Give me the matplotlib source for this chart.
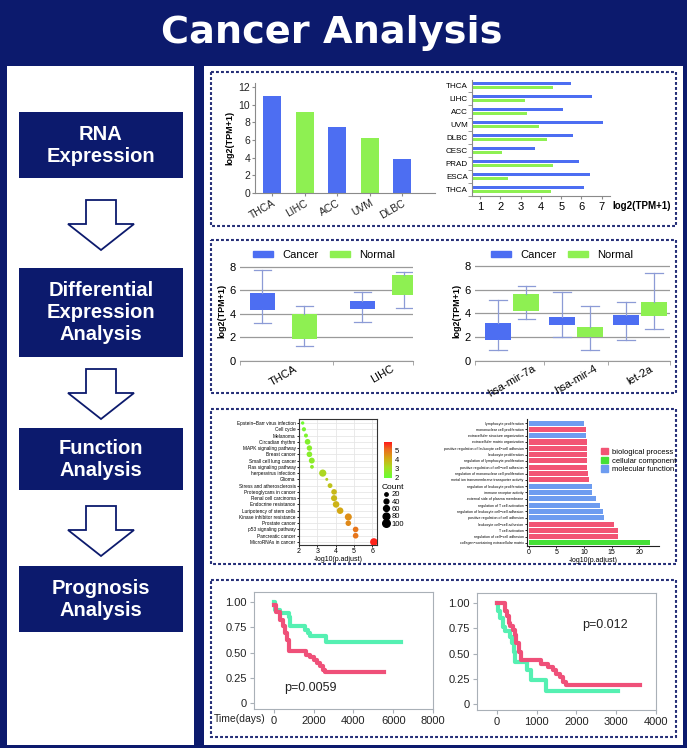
import numpy as np
import matplotlib
matplotlib.use('Agg')
import matplotlib.pyplot as plt
from matplotlib.patches import Rectangle, Polygon, Patch
from matplotlib.lines import Line2D
from matplotlib.colors import LinearSegmentedColormap

plt.rcParams['font.family'] = ['Liberation Sans', 'DejaVu Sans']

# ---------------- data ----------------
rna_types = ['THCA', 'LIHC', 'ACC', 'UVM', 'DLBC']
rna_values = [11.0, 9.2, 7.5, 6.2, 3.8]

tpm_types = ['THCA', 'LIHC', 'ACC', 'UVM', 'DLBC', 'CESC', 'PRAD', 'ESCA', 'THCA']
tpm_cancer = [5.5, 6.5, 5.1, 7.05, 5.6, 3.7, 5.9, 6.4, 6.15]
tpm_normal = [4.6, 3.2, 3.3, 3.9, 4.3, 2.1, 4.6, 2.4, 4.5]

# whisker low, q1, q3, whisker high
de_types = ['THCA', 'LIHC']
de_cancer = [[3.2, 4.3, 5.8, 7.7], [3.3, 4.4, 5.1, 5.9]]
de_normal = [[1.3, 1.9, 4.0, 4.7], [4.5, 5.6, 7.3, 7.6]]

mir_names = ['hsa-mir-7a', 'hsa-mir-4', 'let-2a']
mir_cancer = [[0.9, 1.8, 3.2, 5.1], [2.0, 3.0, 3.7, 5.8], [1.8, 3.0, 3.9, 5.0]]
mir_normal = [[3.5, 4.2, 5.6, 6.3], [0.9, 2.0, 2.9, 4.6], [2.7, 3.8, 5.0, 7.4]]

kegg_terms = ['Epstein\u2212Barr virus infection', 'Cell cycle', 'Melanoma', 'Circadian rhythm',
              'MAPK signaling pathway', 'Breast cancer', 'Small cell lung cancer',
              'Ras signaling pathway', 'herpesvirus infection', 'Glioma',
              'Stress and atherosclerosis', 'Proteoglycans in cancer', 'Renal cell carcinoma',
              'Endocrine resistance', 'Luripotency of stem cells', 'Kinase inhibitor resistance',
              'Prostate cancer', 'p53 signaling pathway', 'Pancreatic cancer', 'MicroRNAs in cancer']
kegg_score = [2.2, 2.27, 2.38, 2.47, 2.57, 2.57, 2.7, 2.71, 3.3, 3.52,
              3.7, 3.92, 3.92, 4.03, 4.25, 4.7, 4.7, 5.1, 5.1, 6.1]
kegg_count = [20, 30, 28, 55, 50, 55, 60, 25, 90, 15,
              40, 55, 65, 75, 75, 85, 55, 55, 55, 100]
kegg_color = [2.1, 2.2, 2.3, 2.4, 2.5, 2.5, 2.6, 2.6, 3.2, 3.4,
              3.6, 3.8, 3.8, 3.9, 4.1, 4.5, 4.6, 4.9, 4.9, 5.8]
count_legend = [20, 40, 60, 80, 100]

go_terms = ['lymphocyte proliferation', 'mononuclear cell proliferation',
            'extracellular structure organization', 'extracellular matrix organization',
            'positive regulation of leukocyte cell\u2212cell adhesion', 'leukocyte proliferation',
            'regulation of lymphocyte proliferation', 'positive regulation of cell\u2212cell adhesion',
            'regulation of mononuclear cell proliferation', 'metal ion transmembrane transporter activity',
            'regulation of leukocyte proliferation', 'immune receptor activity',
            'external side of plasma membrane', 'regulation of T cell activation',
            'regulation of leukocyte cell\u2212cell adhesion', 'positive regulation of cell adhesion',
            'leukocyte cell\u2212cell adhesion', 'T cell activation',
            'regulation of cell\u2212cell adhesion', 'collagen\u2212containing extracellular matrix']
go_score = [10.0, 10.3, 10.4, 10.5, 10.5, 10.5, 10.5, 10.5, 10.7, 10.9,
            11.4, 11.4, 12.2, 12.9, 13.4, 13.7, 15.5, 16.2, 16.2, 22.0]
go_class = ['MF', 'BP', 'MF', 'BP', 'BP', 'BP', 'BP', 'BP', 'BP', 'BP',
            'MF', 'MF', 'MF', 'MF', 'MF', 'MF', 'BP', 'BP', 'BP', 'CC']
go_names = {'BP': 'biological process', 'CC': 'cellular component', 'MF': 'molecular function'}

km1_high_t = [0, 80, 330, 740, 820, 1560, 1720, 1810, 2630, 6400]
km1_high_s = [1.0, 0.92, 0.89, 0.85, 0.76, 0.72, 0.69, 0.66, 0.6, 0.6]
km1_low_t = [0, 100, 300, 450, 550, 650, 740, 1600, 1800, 2000, 2150, 2300, 2480, 2560, 5560]
km1_low_s = [0.97, 0.9, 0.82, 0.76, 0.69, 0.62, 0.52, 0.48, 0.455, 0.425, 0.395, 0.365, 0.33, 0.305, 0.305]
km2_high_t = [0, 25, 75, 157, 216, 340, 381, 423, 448, 746, 846, 1244, 3035]
km2_high_s = [1.0, 0.92, 0.85, 0.76, 0.72, 0.66, 0.6, 0.52, 0.42, 0.34, 0.24, 0.13, 0.13]
km2_low_t = [0, 199, 257, 299, 340, 406, 448, 489, 547, 605, 1120, 1294, 1418, 1493, 1592, 1667, 1741, 3607]
km2_low_s = [1.0, 0.92, 0.87, 0.8, 0.77, 0.73, 0.68, 0.6, 0.52, 0.44, 0.40, 0.37, 0.34, 0.30, 0.27, 0.22, 0.19, 0.19]

# ---------------- styles ----------------
navy = '#0c1a6d'
blue = '#4d6ef2'
green = '#8ef052'
wcol = '#8c9bd6'
grey = '#8a8a8a'
km_green = '#55f0b2'
km_pink = '#ef5079'
go_colors = {'BP': '#f25474', 'CC': '#45e036', 'MF': '#6d9cf0'}
dot_scale = 0.3

W, H = 687, 748
fig = plt.figure(figsize=(W / 100, H / 100), dpi=100, facecolor=navy)
bg = fig.add_axes([0, 0, 1, 1])
bg.set_xlim(0, W)
bg.set_ylim(H, 0)
bg.axis('off')


def px_axes(x0, y0, x1, y1):
    return fig.add_axes([x0 / W, 1 - y1 / H, (x1 - x0) / W, (y1 - y0) / H])


# frame, title, left flow column
bg.text(332, 33, 'Cancer Analysis', color='white', fontsize=27.5, fontweight='bold',
        family='DejaVu Sans', ha='center', va='center')
bg.add_patch(Rectangle((7, 66), 187, 679, fc='white', ec='none'))
bg.add_patch(Rectangle((204, 66), 479, 679, fc='white', ec='none'))
for y0, y1 in [(72, 226), (240, 393), (409, 564), (580, 737)]:
    bg.add_patch(Rectangle((211, y0), 465, y1 - y0, fill=False, ec='#262f78', lw=1.5,
                           ls=(0, (1.4, 1.0))))

steps = [('RNA\nExpression', 112, 178), ('Differential\nExpression\nAnalysis', 268, 357),
         ('Function\nAnalysis', 428, 490), ('Prognosis\nAnalysis', 566, 632)]
for label, y0, y1 in steps:
    bg.add_patch(Rectangle((19, y0), 164, y1 - y0, fc=navy, ec='none'))
    bg.text(101, (y0 + y1) / 2, label, color='white', fontsize=14.5, fontweight='bold',
            ha='center', va='center', linespacing=1.2)
for top in [200, 369, 506]:
    cx, mid, tip = 101, top + 24, top + 50
    bg.add_patch(Polygon([(cx - 15, top), (cx + 15, top), (cx + 15, mid), (cx + 33, mid),
                          (cx, tip), (cx - 33, mid), (cx - 15, mid)], closed=True,
                         fc='white', ec=navy, lw=1.3))

# ---- chart 1: RNA expression bars ----
ax1 = px_axes(255, 83, 435, 193)
x = np.arange(len(rna_types))
ax1.bar(x, rna_values, width=0.55, color=[blue, green, blue, green, blue])
ax1.set_xlim(-0.52, 5.0)
ax1.set_ylim(0, 12.45)
ax1.set_yticks(range(0, 13, 2))
ax1.set_xticks(x)
ax1.set_xticklabels(rna_types, rotation=30, ha='right', rotation_mode='anchor')
for s in ['top', 'right']:
    ax1.spines[s].set_visible(False)
for s in ['left', 'bottom']:
    ax1.spines[s].set_color(grey)
ax1.tick_params(colors=grey, labelcolor='#222', labelsize=7.5, length=2.5, pad=1)
ax1.set_ylabel('log2(TPM+1)', fontweight='bold', fontsize=6.5, labelpad=3)

# ---- chart 2: grouped horizontal bars ----
ax2 = px_axes(472, 80, 610, 196)
y = np.arange(len(tpm_types))
ax2.barh(y - 0.165, tpm_cancer, height=0.24, color=blue)
ax2.barh(y + 0.165, tpm_normal, height=0.24, color=green)
ax2.set_xlim(0.6, 7.41)
ax2.set_ylim(8.47, -0.41)
ax2.set_yticks(y)
ax2.set_yticklabels(tpm_types)
ax2.set_yticks(y + 0.5, minor=True)
ax2.set_xticks(range(1, 8))
for s in ['top', 'right']:
    ax2.spines[s].set_visible(False)
for s in ['left', 'bottom']:
    ax2.spines[s].set_color(grey)
ax2.tick_params(axis='y', which='major', length=0, labelsize=5.8, pad=3)
ax2.tick_params(axis='y', which='minor', length=3, color=grey)
ax2.tick_params(axis='x', length=2, color=grey, labelsize=8, pad=2)
bg.text(642, 206, 'log2(TPM+1)', fontsize=7, fontweight='bold', ha='center', va='center')


# ---- box charts ----
def draw_boxes(ax, cancer, normal, offset, width, capw):
    n = len(cancer)
    stats = [dict(whislo=q[0], q1=q[1], med=q[1], q3=q[2], whishi=q[3], fliers=[])
             for q in cancer + normal]
    pos = list(np.arange(n) - offset) + list(np.arange(n) + offset)
    res = ax.bxp(stats, positions=pos, widths=width, patch_artist=True, showfliers=False,
                 capwidths=capw, boxprops=dict(edgecolor='none'),
                 whiskerprops=dict(color=wcol, lw=0.9), capprops=dict(color=wcol, lw=0.9),
                 medianprops=dict(lw=0), manage_ticks=False)
    for i, b in enumerate(res['boxes']):
        b.set_facecolor(blue if i < n else green)


def style_box_axes(ax, names, lo, hi):
    n = len(names)
    ax.set_ylim(0, 8.5)
    ax.set_yticks([0, 2, 4, 6, 8])
    ax.yaxis.grid(True, color='#9a9a9a', lw=0.9)
    ax.set_axisbelow(True)
    ax.set_xlim(lo, hi)
    ax.set_xticks(np.arange(n))
    ax.set_xticklabels(names, rotation=30, ha='center')
    ax.set_xticks([lo] + list(np.arange(n - 1) + 0.5) + [hi], minor=True)
    for s in ['top', 'right', 'left']:
        ax.spines[s].set_visible(False)
    ax.spines['bottom'].set_color('#9a9a9a')
    ax.tick_params(axis='y', length=0, labelsize=8, pad=3)
    ax.tick_params(axis='x', which='major', length=0, labelsize=8, pad=2)
    ax.tick_params(axis='x', which='minor', length=3, color='#9a9a9a')
    ax.set_ylabel('log2(TPM+1)', fontweight='bold', fontsize=6.5, labelpad=2)


ax3 = px_axes(240, 261, 413, 361)
draw_boxes(ax3, de_cancer, de_normal, 0.21, 0.25, 0.17)
style_box_axes(ax3, de_types, -0.43, 1.3)

ax4 = px_axes(475, 260, 670, 361)
draw_boxes(ax4, mir_cancer, mir_normal, 0.22, 0.4, 0.27)
style_box_axes(ax4, mir_names, -0.58, 2.47)

for lx in [253, 491]:
    fig.legend(handles=[Patch(color=blue, label='Cancer'), Patch(color=green, label='Normal')],
               loc='center left', bbox_to_anchor=(lx, 255), bbox_transform=bg.transData,
               ncol=2, frameon=False, fontsize=8, handlelength=1.8, handleheight=0.55,
               handletextpad=0.8, columnspacing=1.1, borderpad=0, borderaxespad=0)

# ---- chart 5: KEGG dot plot ----
cmap = LinearSegmentedColormap.from_list('padj', [(0, '#66ff33'), (0.3, '#a8dc22'),
                                                  (0.55, '#d4a814'), (0.8, '#ec6a1e'),
                                                  (1, '#ff1a1a')])
ax5 = px_axes(299, 419, 377, 545)
yy = np.arange(len(kegg_terms))
sc = ax5.scatter(kegg_score, yy, s=np.array(kegg_count) * dot_scale, c=kegg_color, cmap=cmap,
                 vmin=1.9, vmax=5.9, zorder=3, edgecolors='none')
ax5.set_xlim(2, 6.27)
ax5.set_ylim(19.48, -0.64)
ax5.set_yticks(yy)
ax5.set_yticklabels(kegg_terms)
ax5.set_xticks([2, 3, 4, 5, 6])
ax5.grid(True, color='#e6e6e6', lw=0.6)
ax5.set_axisbelow(True)
for s in ax5.spines.values():
    s.set_color('#333333')
    s.set_linewidth(0.8)
ax5.tick_params(axis='y', labelsize=3.4, length=1.5, width=0.6, pad=1)
ax5.tick_params(axis='x', labelsize=5, length=1.5, width=0.6, pad=1)
ax5.set_xlabel('-log10(p.adjust)', fontsize=5, labelpad=0.5)

cax = px_axes(384, 442, 392, 478)
cb = fig.colorbar(sc, cax=cax, ticks=[2, 3, 4, 5])
cb.outline.set_visible(False)
cax.tick_params(length=0, labelsize=5.5, pad=2)

count_handles = [Line2D([], [], ls='', marker='o', color='black',
                        markersize=np.sqrt(c * dot_scale), label=str(c)) for c in count_legend]
fig.legend(handles=count_handles, title='Count', loc='upper left', bbox_to_anchor=(382, 484),
           bbox_transform=bg.transData, frameon=False, fontsize=5.5, title_fontsize=6,
           labelspacing=0.0, handletextpad=0.3, handlelength=1.0, borderpad=0,
           borderaxespad=0, alignment='left')

# ---- chart 6: GO bars ----
ax6 = px_axes(527, 419, 659, 546)
ax6.barh(yy, go_score, height=0.8, color=[go_colors[c] for c in go_class])
ax6.set_xlim(-0.3, 23.6)
ax6.set_ylim(19.48, -0.64)
ax6.set_yticks(yy)
ax6.set_yticklabels(go_terms)
ax6.set_xticks([0, 5, 10, 15, 20])
for s in ['top', 'right']:
    ax6.spines[s].set_visible(False)
for s in ['left', 'bottom']:
    ax6.spines[s].set_color('#222222')
    ax6.spines[s].set_linewidth(0.8)
ax6.tick_params(axis='y', labelsize=2.6, length=1.5, width=0.6, pad=1)
ax6.tick_params(axis='x', labelsize=5, length=1.5, width=0.6, pad=1)
ax6.set_xlabel('-log10(p.adjust)', fontsize=5, labelpad=0.5)
fig.legend(handles=[Patch(color=go_colors[k], label=go_names[k]) for k in ['BP', 'CC', 'MF']],
           loc='upper left', bbox_to_anchor=(601, 448), bbox_transform=bg.transData,
           frameon=False, fontsize=5.5, handlelength=0.9, handleheight=0.9,
           handletextpad=0.6, labelspacing=0.12, borderpad=0, borderaxespad=0)


# ---- KM curves ----
def km_axes(ax, xticks):
    ax.set_ylim(-0.06, 1.1)
    ax.set_yticks([0, 0.25, 0.5, 0.75, 1.0])
    ax.set_yticklabels(['0', '0.25', '0.50', '0.75', '1.00'])
    ax.set_xticks(xticks)
    for s in ax.spines.values():
        s.set_color('#a9b0b7')
    ax.tick_params(colors='#a9b0b7', labelcolor='#222', labelsize=8, length=3, pad=2)


ax7 = px_axes(254, 592, 433, 709)
ax7.step(km1_high_t, km1_high_s, where='post', color=km_green, lw=3)
ax7.step(km1_low_t, km1_low_s, where='post', color=km_pink, lw=3)
ax7.set_xlim(-1000, 8000)
km_axes(ax7, [0, 2000, 4000, 6000, 8000])
ax7.text(0.17, 0.15, 'p=0.0059', transform=ax7.transAxes, fontsize=9, color='#222')
bg.text(240, 719, 'Time(days)', fontsize=7.5, ha='center', va='center', color='#222')

ax8 = px_axes(477, 593, 656, 710)
ax8.step(km2_high_t, km2_high_s, where='post', color=km_green, lw=3)
ax8.step(km2_low_t, km2_low_s, where='post', color=km_pink, lw=3)
ax8.set_xlim(-500, 4000)
km_axes(ax8, [0, 1000, 2000, 3000, 4000])
ax8.text(0.59, 0.7, 'p=0.012', transform=ax8.transAxes, fontsize=9, color='#222')

fig.savefig('out.png', dpi=100, facecolor=navy)
